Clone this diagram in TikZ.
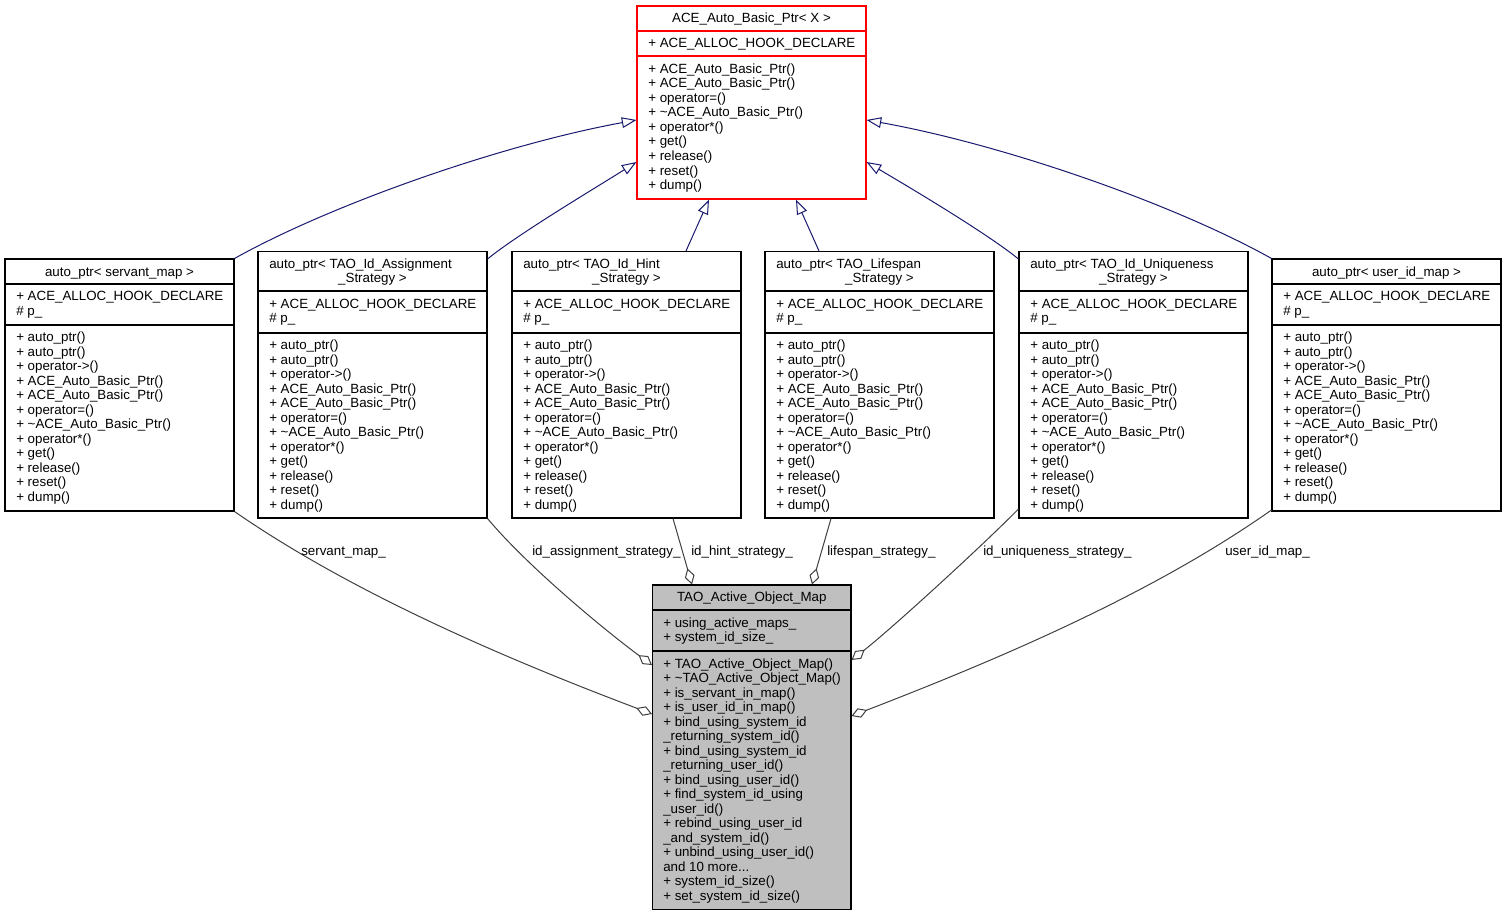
\documentclass[tikz,border=0pt]{standalone}
\usepackage{fontspec}
\setmainfont{Liberation Sans}
\usetikzlibrary{arrows.meta,fit}
\definecolor{inhcol}{HTML}{191970}
\definecolor{usecol}{HTML}{404040}
\definecolor{graybox}{HTML}{BFBFBF}
\newcommand\mlines[4]{\foreach \itm [count=\i from 0] in {#4} {\node[txt, anchor=base west] (#1-\i) at ({#2},{#3+\i*14.5}) {\itm};}}
\newcommand\ptrmethods{+ auto\_ptr(), + auto\_ptr(), + operator->(), + ACE\_Auto\_Basic\_Ptr(), + ACE\_Auto\_Basic\_Ptr(), + operator=(), + \textasciitilde ACE\_Auto\_Basic\_Ptr(), + operator*(), + get(), + release(), + reset(), + dump()}
\newcommand\ptrlines[3]{\foreach \itm [count=\i from 0] in \ptrmethods {\node[txt, anchor=base west] (#1-\i) at ({#2},{#3+\i*14.5}) {\itm};}}
\newcommand\tenmore{and 10 more...}
\begin{document}
\begin{tikzpicture}[x=0.75pt,y=-0.75pt,
  txt/.style={inner sep=0pt, font=\fontsize{10}{12}\selectfont},
  classbox/.style={draw=black, line width=0.8pt, inner sep=0pt, fill=white},
  redbox/.style={classbox, draw=red},
  mainbox/.style={classbox, fill=graybox},
  divider/.style={draw=black, line width=0.8pt},
  reddivider/.style={draw=red, line width=0.8pt},
  inherit/.style={draw=inhcol, line width=0.75pt, -{Triangle[open, length=11pt, width=8pt]}},
  usage/.style={draw=usecol, line width=0.75pt, -{Diamond[open, length=12.5pt, width=7.5pt]}},
  elabel/.style={txt, anchor=base west}]
\fill[white] (0,0) rectangle (1507,917);
\useasboundingbox (0,0) rectangle (1507,917);

% ---------- top box
\node[redbox, fit={(637,6) (866,199)}] (top) {};
\draw[reddivider] (top.west |- 0,31) -- (top.east |- 0,31);
\draw[reddivider] (top.west |- 0,56) -- (top.east |- 0,56);
\node[txt, anchor=base] (top-t) at (751.5,22.5) {ACE\_Auto\_Basic\_Ptr< X >};
\mlines{top-a}{648}{47.5}{+ ACE\_ALLOC\_HOOK\_DECLARE}
\mlines{top-m}{648}{73.5}{+ ACE\_Auto\_Basic\_Ptr(), + ACE\_Auto\_Basic\_Ptr(), + operator=(), + \textasciitilde ACE\_Auto\_Basic\_Ptr(), + operator*(), + get(), + release(), + reset(), + dump()}

% ---------- b1 servant_map
\node[classbox, fit={(5,259) (234,511)}] (b1) {};
\draw[divider] (b1.west |- 0,284) -- (b1.east |- 0,284);
\draw[divider] (b1.west |- 0,325) -- (b1.east |- 0,325);
\node[txt, anchor=base] (b1-t) at (119.5,276) {auto\_ptr< servant\_map >};
\mlines{b1-a}{16}{300.5}{+ ACE\_ALLOC\_HOOK\_DECLARE, \# p\_}
\ptrlines{b1-m}{16}{341.5}

% ---------- b2 Id_Assignment
\node[classbox, fit={(258,251.5) (487,518)}] (b2) {};
\draw[divider] (b2.west |- 0,291) -- (b2.east |- 0,291);
\draw[divider] (b2.west |- 0,333) -- (b2.east |- 0,333);
\node[txt, anchor=base west] (b2-t1) at (269,268) {auto\_ptr< TAO\_Id\_Assignment};
\node[txt, anchor=base] (b2-t2) at (372.5,282.5) {\_Strategy >};
\mlines{b2-a}{269}{308}{+ ACE\_ALLOC\_HOOK\_DECLARE, \# p\_}
\ptrlines{b2-m}{269}{349.5}

% ---------- b3 Id_Hint
\node[classbox, fit={(512,251.5) (741,518)}] (b3) {};
\draw[divider] (b3.west |- 0,291) -- (b3.east |- 0,291);
\draw[divider] (b3.west |- 0,333) -- (b3.east |- 0,333);
\node[txt, anchor=base west] (b3-t1) at (523,268) {auto\_ptr< TAO\_Id\_Hint};
\node[txt, anchor=base] (b3-t2) at (626.5,282.5) {\_Strategy >};
\mlines{b3-a}{523}{308}{+ ACE\_ALLOC\_HOOK\_DECLARE, \# p\_}
\ptrlines{b3-m}{523}{349.5}

% ---------- b4 Lifespan
\node[classbox, fit={(765,251.5) (994,518)}] (b4) {};
\draw[divider] (b4.west |- 0,291) -- (b4.east |- 0,291);
\draw[divider] (b4.west |- 0,333) -- (b4.east |- 0,333);
\node[txt, anchor=base west] (b4-t1) at (776,268) {auto\_ptr< TAO\_Lifespan};
\node[txt, anchor=base] (b4-t2) at (879.5,282.5) {\_Strategy >};
\mlines{b4-a}{776}{308}{+ ACE\_ALLOC\_HOOK\_DECLARE, \# p\_}
\ptrlines{b4-m}{776}{349.5}

% ---------- b5 Id_Uniqueness
\node[classbox, fit={(1019,251.5) (1248,518)}] (b5) {};
\draw[divider] (b5.west |- 0,291) -- (b5.east |- 0,291);
\draw[divider] (b5.west |- 0,333) -- (b5.east |- 0,333);
\node[txt, anchor=base west] (b5-t1) at (1030,268) {auto\_ptr< TAO\_Id\_Uniqueness};
\node[txt, anchor=base] (b5-t2) at (1133.5,282.5) {\_Strategy >};
\mlines{b5-a}{1030}{308}{+ ACE\_ALLOC\_HOOK\_DECLARE, \# p\_}
\ptrlines{b5-m}{1030}{349.5}

% ---------- b6 user_id_map
\node[classbox, fit={(1272,259) (1501,511)}] (b6) {};
\draw[divider] (b6.west |- 0,284) -- (b6.east |- 0,284);
\draw[divider] (b6.west |- 0,325) -- (b6.east |- 0,325);
\node[txt, anchor=base] (b6-t) at (1386.5,276) {auto\_ptr< user\_id\_map >};
\mlines{b6-a}{1283}{300.5}{+ ACE\_ALLOC\_HOOK\_DECLARE, \# p\_}
\ptrlines{b6-m}{1283}{341.5}

% ---------- bottom box
\node[mainbox, fit={(652.5,585) (851,909.5)}] (bot) {};
\draw[divider] (bot.west |- 0,610) -- (bot.east |- 0,610);
\draw[divider] (bot.west |- 0,651) -- (bot.east |- 0,651);
\node[txt, anchor=base] (bot-t) at (751.75,601.5) {TAO\_Active\_Object\_Map};
\mlines{bot-a}{663}{627}{+ using\_active\_maps\_, + system\_id\_size\_}
\mlines{bot-m}{663}{668}{+ TAO\_Active\_Object\_Map(), + \textasciitilde TAO\_Active\_Object\_Map(), + is\_servant\_in\_map(), + is\_user\_id\_in\_map(), + bind\_using\_system\_id, \_returning\_system\_id(), + bind\_using\_system\_id, \_returning\_user\_id(), + bind\_using\_user\_id(), + find\_system\_id\_using, \_user\_id(), + rebind\_using\_user\_id, \_and\_system\_id(), + unbind\_using\_user\_id(), \tenmore, + system\_id\_size(), + set\_system\_id\_size()}

% ---------- inheritance edges
\draw[inherit] (b1.north east) .. controls (330,205) and (500,145) .. (top.west |- 0,120);
\draw[inherit] (b2.east |- 0,259) .. controls (518,234) and (597,187) .. (top.west |- 0,162);
\draw[inherit] (686,0 |- b3.north) -- (709,0 |- top.south);
\draw[inherit] (819,0 |- b4.north) -- (796,0 |- top.south);
\draw[inherit] (b5.west |- 0,259) .. controls (988,234) and (909,187) .. (top.east |- 0,162);
\draw[inherit] (b6.north west) .. controls (1176,205) and (1006,145) .. (top.east |- 0,120);

% ---------- usage edges
\draw[usage] (b1.south east) .. controls (355,595) and (512,661) .. (bot.west |- 0,714);
\draw[usage] (b2.south east) .. controls (528,567) and (607,632) .. (bot.west |- 0,665);
\draw[usage] (673,0 |- b3.south) -- (692,0 |- bot.north);
\draw[usage] (831,0 |- b4.south) -- (812,0 |- bot.north);
\draw[usage] (b5.west |- 0,509) .. controls (980,548) and (890,630) .. (bot.east |- 0,660);
\draw[usage] (b6.west |- 0,510) .. controls (1151,595) and (994,661) .. (bot.east |- 0,716);

% ---------- edge labels
\node[elabel] (l1) at (301,555) {servant\_map\_};
\node[elabel] (l2) at (532,555) {id\_assignment\_strategy\_};
\node[elabel] (l3) at (691,555) {id\_hint\_strategy\_};
\node[elabel] (l4) at (827,555) {lifespan\_strategy\_};
\node[elabel] (l5) at (983,555) {id\_uniqueness\_strategy\_};
\node[elabel] (l6) at (1225,555) {user\_id\_map\_};
\end{tikzpicture}
\end{document}
